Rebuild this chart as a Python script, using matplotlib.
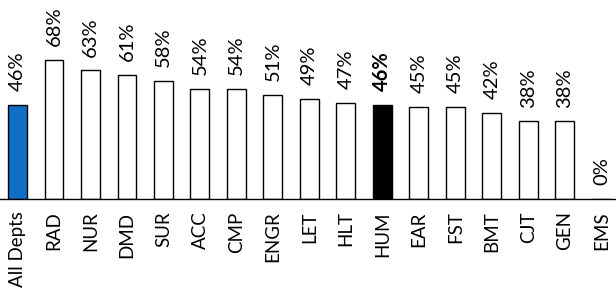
import matplotlib
matplotlib.use("Agg")
import matplotlib.pyplot as plt

categories = ["All Depts", "RAD", "NUR", "DMD", "SUR", "ACC", "CMP", "ENGR", "LET",
              "HLT", "HUM", "EAR", "FST", "BMT", "CJT", "GEN", "EMS"]
values = [46, 68, 63, 61, 58, 54, 54, 51, 49, 47, 46, 45, 45, 42, 38, 38, 0]
labels = ["46%", "68%", "63%", "61%", "58%", "54%", "54%", "51%", "49%", "47%",
          "46%", "45%", "45%", "42%", "38%", "38%", "0%"]

plt.rcParams['font.family'] = ['Lato', 'DejaVu Sans']

fig = plt.figure(figsize=(6.16, 2.93), dpi=100)
ax = fig.add_axes([0, 94 / 293, 1, 183.6 / 293])

colors = []
for c in categories:
    if c == "All Depts":
        colors.append("#0f6fc6")
    elif c == "HUM":
        colors.append("#000000")
    else:
        colors.append("#ffffff")

x = list(range(len(categories)))
ax.bar(x, values, width=0.52, color=colors, edgecolor="#000000", linewidth=1.0, zorder=2)

for xi, v, lab, c in zip(x, values, labels, categories):
    ax.annotate(lab, (xi, v), xytext=(0, 10), textcoords="offset points",
                rotation=90, ha="center", va="bottom", fontsize=14.5,
                fontweight="bold" if c == "HUM" else "normal", annotation_clip=False)

ax.set_xlim(-0.48, 16.4)
ax.set_ylim(0, 90)
ax.set_xticks(x)
ax.set_xticklabels(categories, rotation=90, fontsize=13.5)
ax.tick_params(axis="x", length=0, pad=9)
ax.set_yticks([])
for s in ["top", "right", "left"]:
    ax.spines[s].set_visible(False)
ax.spines["bottom"].set_linewidth(1.0)
ax.patch.set_alpha(0)

fig.savefig("out.png", dpi=100)
